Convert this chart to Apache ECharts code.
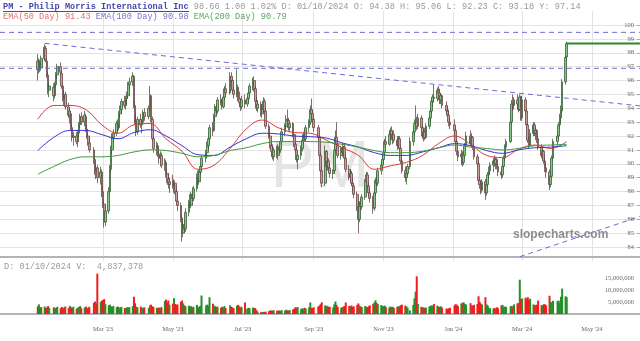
<!DOCTYPE html>
<html>
<head>
<meta charset="utf-8">
<script src="https://cdn.jsdelivr.net/npm/echarts@6/dist/echarts.min.js"></script>
<style>
  html, body { margin: 0; padding: 0; background: #fff; }
  #chart { width: 640px; height: 341px; }
</style>
</head>
<body>
<div id="chart"></div>
<script>
;(function () {
  'use strict';

  // market holidays inside the range (used to build the trading calendar)
  var holidays = ['2023-01-02', '2023-01-16', '2023-02-20', '2023-04-07', '2023-05-29', '2023-06-19',
    '2023-07-04', '2023-09-04', '2023-11-23', '2023-12-25', '2024-01-01', '2024-01-15', '2024-02-19', '2024-03-29'];

  // daily OHLC, one entry per trading day, Jan 3 2023 .. Apr 9 2024
  var opens = [
    97.4,96.8,97.3,96.9,97.6,98.3,97.4,96.4,95.3,95.5,94.9,95.7,96.4,97.0,96.5,95.6,94.7,95.0,94.1,93.5,
    93.6,92.6,91.9,92.0,91.6,92.2,92.8,93.4,93.0,93.4,92.5,92.0,91.5,91.0,90.3,89.5,89.7,89.0,89.4,
    88.0,87.1,85.8,86.6,88.0,89.6,91.0,91.9,92.2,92.9,92.6,93.6,93.9,94.5,94.2,94.7,94.9,95.7,95.9,96.3,94.2,93.0,92.3,
    93.2,92.8,93.0,93.7,93.4,94.0,94.9,93.2,91.8,91.1,91.3,90.7,90.4,90.6,89.9,90.1,89.3,88.9,88.5,
    88.7,88.4,88.6,88.0,87.3,87.0,86.1,85.0,85.6,85.3,86.5,87.2,87.0,87.8,87.5,88.2,89.0,88.7,89.4,89.8,90.4,90.8,
    91.3,91.8,92.6,92.4,93.4,94.1,93.8,94.6,94.4,94.1,94.8,95.4,95.1,96.3,96.0,95.3,95.0,95.5,94.7,94.4,94.1,
    94.6,94.3,94.7,95.1,95.6,96.0,95.4,94.5,94.0,94.3,93.6,93.9,94.5,93.8,92.7,92.0,91.3,90.9,90.5,91.0,
    90.6,91.2,91.0,91.6,92.3,92.7,93.2,93.1,92.6,92.9,92.1,91.4,91.0,90.3,90.6,91.1,91.7,92.1,91.8,92.6,93.0,93.9,93.6,
    93.2,92.6,91.9,90.6,89.5,88.6,90.9,89.8,90.2,89.7,89.3,89.5,91.0,91.9,91.4,90.6,91.1,90.8,91.2,90.4,
    89.6,89.0,89.3,88.6,88.4,87.8,86.9,86.0,87.1,86.9,87.6,88.7,89.2,88.4,87.9,87.5,86.8,87.9,88.8,88.6,89.5,89.9,
    90.3,90.8,91.6,91.4,92.1,92.4,91.9,92.1,91.7,91.3,91.8,91.1,90.2,89.5,89.0,89.3,89.8,91.6,92.3,92.9,93.0,
    92.7,93.3,92.6,92.0,92.3,91.9,92.7,93.3,93.8,94.5,94.8,94.7,95.3,95.1,94.6,94.9,94.2,93.8,93.5,93.0,
    92.8,92.4,91.6,90.9,90.5,90.7,90.1,90.6,91.3,92.0,91.5,91.9,91.2,90.5,90.0,88.8,88.5,88.1,88.7,87.9,88.5,
    89.2,89.5,89.9,90.2,90.0,90.3,89.8,89.4,89.2,89.8,90.4,91.2,91.6,93.0,94.3,94.2,94.6,94.3,93.9,94.8,
    93.3,94.6,93.8,92.8,91.7,91.3,92.2,92.8,92.2,92.4,91.8,91.2,90.6,90.9,90.2,89.7,89.4,88.5,89.1,90.4,
    91.6,92.0,92.8,93.3,93.8,95.9,97.7
  ];
  var highs = [
    97.9,97.6,97.5,97.8,98.6,98.5,97.6,96.6,95.9,95.8,95.9,96.6,97.2,97.3,96.7,95.8,95.3,95.2,94.4,94.0,
    93.8,92.9,92.3,92.3,92.4,93.0,93.6,93.7,93.8,93.6,92.8,92.2,91.9,91.2,90.6,90.0,89.9,89.8,89.6,
    88.4,87.3,87.0,88.3,89.9,91.3,92.2,92.5,93.1,93.2,93.8,94.2,94.7,94.9,94.9,95.2,95.9,96.2,96.6,96.4,94.5,93.6,93.4,
    93.6,93.2,93.9,94.0,94.2,95.6,95.0,93.4,92.0,91.6,91.5,91.0,90.9,90.8,90.4,90.3,89.6,89.3,89.0,
    89.2,88.9,88.8,88.2,87.6,87.2,86.3,85.9,86.0,86.8,87.4,87.8,88.0,88.3,88.4,89.3,89.5,89.6,90.0,90.6,91.0,91.6,
    92.0,92.8,93.0,93.6,94.3,94.4,94.8,95.0,94.7,95.0,95.6,95.8,96.6,96.6,96.1,95.6,96.8,95.7,95.2,94.7,94.9,
    95.0,94.9,95.3,95.8,96.2,96.3,95.6,94.8,94.6,94.5,94.2,94.8,94.7,94.0,92.9,92.2,91.6,91.4,91.2,91.3,
    91.4,91.5,91.9,92.6,92.9,93.5,93.9,93.3,93.1,93.0,92.3,91.6,91.2,90.9,91.3,91.9,92.3,92.5,92.8,93.2,94.2,94.7,93.9,
    93.4,92.8,92.0,90.8,89.8,91.3,91.0,90.5,90.4,90.0,89.6,91.2,92.4,93.0,91.6,91.3,91.5,91.3,91.4,90.7,
    89.9,89.6,89.5,89.0,88.6,88.0,87.3,87.3,87.5,87.8,88.9,89.4,89.4,88.7,88.2,87.7,88.1,89.0,89.3,89.7,90.1,90.5,
    91.0,91.8,92.0,92.3,92.6,92.7,92.3,92.4,92.0,92.0,92.0,91.3,90.4,89.8,89.6,90.0,91.9,92.6,93.2,94.2,93.4,
    93.6,93.5,92.8,92.5,92.6,92.9,93.5,94.0,94.7,95.0,95.7,95.5,95.6,95.4,95.1,95.0,94.5,94.1,93.9,93.3,
    93.2,92.6,91.8,91.2,91.0,90.9,90.9,91.5,92.3,92.4,92.2,92.0,91.4,90.7,90.2,89.1,88.8,88.9,88.9,88.7,89.4,
    89.8,90.1,90.4,90.6,90.5,90.4,90.0,89.7,90.0,90.6,91.4,91.8,93.3,94.6,95.0,94.8,95.0,94.6,95.0,94.9,
    94.9,94.8,94.0,93.0,92.0,92.5,93.0,93.0,92.6,92.5,92.0,91.4,91.1,91.0,90.5,90.0,89.6,89.3,90.6,91.8,
    92.3,93.0,93.6,94.2,96.1,97.8,98.8
  ];
  var lows = [
    96.0,96.5,96.6,96.7,97.4,97.3,96.2,95.0,94.8,94.5,94.7,95.5,96.1,96.3,95.4,94.5,94.2,93.9,93.3,92.9,
    92.4,91.6,91.3,91.4,91.2,91.9,92.6,92.8,92.7,92.3,91.8,91.3,90.8,90.0,89.2,88.9,88.6,88.5,87.6,
    86.8,85.4,85.5,86.4,87.8,89.4,90.7,91.5,92.0,92.3,92.4,93.3,93.6,94.0,93.9,94.3,94.7,95.3,95.6,94.0,92.8,92.0,92.1,
    92.6,92.2,92.9,93.1,93.2,93.8,93.0,91.6,90.8,90.6,90.5,90.0,89.8,89.7,89.5,89.0,88.6,88.2,87.9,
    88.2,87.9,87.8,87.0,86.6,85.8,84.4,84.7,85.0,85.1,86.2,86.8,86.8,87.3,87.3,88.0,88.4,88.5,89.2,89.6,90.1,90.5,
    91.0,91.6,92.0,92.3,93.1,93.5,93.6,94.2,93.9,94.0,94.6,94.9,95.0,95.8,95.1,94.7,94.8,94.5,94.1,93.8,93.9,
    94.0,94.1,94.4,94.9,95.3,95.2,94.3,93.8,93.7,93.4,93.3,93.7,93.6,92.5,91.8,91.1,90.6,90.3,90.2,90.4,
    90.3,90.7,90.8,91.4,92.0,92.5,92.9,92.4,92.3,91.9,91.2,90.8,90.1,89.6,90.3,90.9,91.4,91.6,91.6,92.3,92.8,93.4,92.9,
    92.3,91.7,90.4,89.3,88.3,88.4,89.6,89.5,89.4,89.0,88.9,89.3,90.8,91.2,90.4,90.3,90.5,90.6,90.2,89.4,
    88.8,88.6,88.4,88.0,87.5,86.6,85.0,85.8,86.6,86.7,87.4,88.4,88.2,87.6,87.2,86.4,86.6,87.7,88.3,88.4,89.2,89.6,
    90.0,90.6,91.2,91.3,91.8,91.7,91.4,91.5,91.0,91.1,90.9,90.0,89.3,88.7,88.5,89.1,89.6,91.3,92.0,92.7,92.4,
    92.5,92.4,91.8,91.6,91.7,91.8,92.5,93.0,93.6,94.1,94.4,94.5,94.9,94.3,94.3,94.0,93.5,93.3,92.7,92.5,
    92.1,91.4,90.6,90.2,89.9,89.8,89.9,90.4,91.1,91.3,91.2,91.0,90.3,89.8,88.6,88.2,87.8,87.9,87.4,87.7,88.3,
    88.9,89.2,89.4,89.8,89.6,89.6,89.1,88.9,89.0,89.6,90.2,91.0,91.5,92.8,93.8,93.9,94.0,93.7,93.8,93.1,
    93.1,93.6,92.6,91.5,91.1,91.2,92.0,92.0,91.7,91.5,91.0,90.4,90.3,90.0,89.4,89.0,88.1,88.3,89.0,90.2,
    91.2,91.8,92.5,93.0,93.6,95.7,97.4
  ];
  var closes = [
    96.8,97.3,96.9,97.6,98.4,97.5,96.4,95.3,95.6,94.9,95.7,96.4,97.0,96.6,95.6,94.7,95.0,94.1,93.5,93.8,
    92.6,91.9,92.0,91.6,92.2,92.8,93.4,93.0,93.5,92.5,92.0,91.5,91.0,90.3,89.5,89.7,89.0,89.4,88.0,
    87.1,85.8,86.6,88.0,89.6,91.0,91.9,92.2,92.9,92.6,93.6,93.9,94.5,94.2,94.7,94.9,95.7,95.9,96.3,94.2,93.0,92.3,93.2,
    92.8,93.0,93.7,93.4,94.0,94.9,93.2,91.8,91.1,91.3,90.7,90.4,90.6,89.9,90.1,89.3,88.9,88.5,88.7,
    88.4,88.6,88.0,87.3,87.0,86.1,85.0,85.6,85.3,86.5,87.2,87.0,87.8,87.5,88.2,89.0,88.7,89.4,89.8,90.4,90.8,91.3,
    91.8,92.6,92.4,93.4,94.1,93.8,94.6,94.4,94.1,94.8,95.4,95.1,96.3,96.0,95.3,95.0,95.5,94.7,94.4,94.1,94.6,
    94.3,94.7,95.1,95.6,96.0,95.4,94.5,94.0,94.3,93.6,93.9,94.5,93.8,92.7,92.0,91.3,90.9,90.5,91.0,90.6,
    91.2,91.0,91.6,92.3,92.7,93.2,93.1,92.6,92.9,92.1,91.4,91.0,90.3,90.6,91.1,91.7,92.1,91.8,92.6,93.0,93.9,93.6,93.2,
    92.6,91.9,90.6,89.5,88.6,90.9,89.8,90.2,89.7,89.3,89.5,91.0,91.9,91.4,90.6,91.1,90.8,91.2,90.4,89.6,
    89.0,89.3,88.6,88.4,87.8,86.9,86.0,87.1,86.9,87.6,88.7,89.2,88.4,87.9,87.5,86.8,87.9,88.8,88.6,89.5,89.9,90.3,
    90.8,91.6,91.4,92.1,92.4,91.9,92.1,91.7,91.3,91.8,91.1,90.2,89.5,89.0,89.3,89.8,91.6,92.3,92.9,93.0,92.7,
    93.3,92.6,92.0,92.3,91.9,92.7,93.3,93.8,94.5,94.8,94.7,95.3,95.1,94.6,94.9,94.2,93.8,93.5,93.0,92.8,
    92.4,91.6,90.9,90.5,90.7,90.1,90.6,91.3,92.0,91.5,91.9,91.2,90.5,90.0,88.8,88.5,88.1,88.7,87.9,88.5,89.2,
    89.5,89.9,90.2,90.0,90.3,89.8,89.4,89.2,89.8,90.4,91.2,91.6,93.0,94.3,94.2,94.6,94.3,93.9,94.8,93.3,
    94.6,93.8,92.8,91.7,91.3,92.2,92.8,92.2,92.4,91.8,91.2,90.6,90.9,90.2,89.7,89.4,88.5,89.1,90.4,91.6,
    92.0,92.8,93.3,93.8,95.9,97.66,98.66
  ];
  // daily volume, millions of shares
  var volumes = [
    3.2,4.0,2.6,2.9,3.1,2.4,2.7,3.3,2.5,2.8,2.2,2.6,3.0,2.4,2.9,2.3,2.7,3.1,2.5,3.4,
    2.8,2.5,3.0,2.2,2.6,2.9,3.3,2.4,2.7,3.1,2.3,2.6,3.0,4.6,5.2,4.4,16.8,5.0,5.6,
    5.8,6.2,4.1,3.6,3.9,3.2,2.8,3.4,2.9,3.1,2.6,2.7,3.0,2.5,2.4,2.8,2.6,2.9,3.3,7.2,4.5,3.0,2.8,
    3.1,2.6,2.4,2.8,2.5,3.6,3.9,3.2,2.9,2.6,2.4,2.7,2.3,2.9,5.4,6.0,4.8,5.6,3.9,
    4.3,6.6,4.2,3.8,4.0,5.1,5.6,4.4,3.6,3.2,3.5,2.9,3.3,2.7,3.0,3.8,2.6,3.1,3.4,7.7,3.6,3.9,
    3.4,7.0,4.3,3.5,3.2,2.8,3.1,2.6,3.0,2.7,3.3,2.5,3.6,3.0,2.7,2.4,3.5,3.8,3.2,2.6,3.0,
    4.8,2.2,2.6,2.4,2.7,2.3,2.5,1.6,1.0,0.8,0.7,0.9,0.8,1.0,1.2,1.4,1.5,1.3,1.6,1.4,
    1.3,1.5,1.2,1.6,1.4,1.8,1.5,1.3,1.7,1.9,2.2,2.8,2.6,2.9,2.1,2.4,1.9,2.6,2.3,2.8,4.8,2.6,2.5,
    2.8,3.1,3.5,4.1,4.9,3.6,3.2,3.4,2.9,3.0,2.7,4.0,5.2,3.8,2.9,2.6,2.8,3.1,3.3,4.8,
    3.4,3.0,3.6,2.9,3.2,3.8,4.4,3.5,3.1,2.9,3.3,3.0,2.8,3.2,3.6,4.2,4.8,5.7,4.6,4.1,3.7,3.4,
    3.2,3.5,2.9,2.7,3.1,2.8,3.0,2.6,2.9,3.3,3.0,3.7,3.9,3.5,3.2,2.6,1.5,3.8,6.5,9.3,15.7,
    4.2,3.0,2.6,2.8,2.4,2.7,3.1,3.4,3.6,3.3,4.2,3.5,3.0,2.9,3.2,2.7,2.3,2.1,2.4,2.6,
    3.6,4.1,3.8,3.3,4.4,4.7,4.84,4.2,3.9,4.5,3.6,3.4,3.8,4.2,7.4,5.1,4.3,3.9,7.0,4.0,3.6,
    2.6,2.4,2.3,2.5,2.2,2.8,2.4,3.6,3.8,2.9,3.1,3.0,3.2,3.4,2.8,4.0,4.4,4.6,14.3,6.2,
    6.5,6.8,6.2,7.0,5.8,6.4,4.0,3.8,3.6,3.9,5.6,3.7,3.5,4.1,4.0,3.6,7.6,5.0,4.8,5.5,
    5.4,5.6,4.6,7.2,10.6,7.4,7.0
  ];

  // moving averages read every two weeks
  var emaDates = ['2023-01-03','2023-01-17','2023-01-31','2023-02-14','2023-02-28','2023-03-14','2023-03-28',
    '2023-04-11','2023-04-25','2023-05-09','2023-05-23','2023-06-06','2023-06-20','2023-07-04','2023-07-18',
    '2023-08-01','2023-08-15','2023-08-29','2023-09-12','2023-09-26','2023-10-10','2023-10-24','2023-11-07',
    '2023-11-21','2023-12-05','2023-12-19','2024-01-02','2024-01-16','2024-01-30','2024-02-13','2024-02-27',
    '2024-03-12','2024-03-26','2024-04-09'];
  var ema50 = [93.2,94.2,94.2,93.9,92.8,92.2,92.8,92.9,91.8,90.9,89.6,89.9,91.1,92.5,93.15,92.6,92.25,92.2,
    91.7,91.15,90.6,89.6,89.85,90.1,90.6,91.45,92.0,91.4,90.6,90.45,91.05,91.35,91.1,91.6];
  var ema100 = [90.95,91.9,92.4,92.4,92.1,91.8,92.25,92.45,92.0,91.3,90.65,90.6,91.2,91.8,92.2,92.15,92.0,
    91.95,91.85,91.5,91.2,90.8,90.6,90.6,90.85,91.15,91.45,91.3,90.95,90.75,91.0,91.15,91.2,91.3];
  var ema200 = [89.25,89.8,90.3,90.5,90.5,90.6,90.85,91.0,90.95,90.75,90.5,90.6,90.95,91.15,91.45,91.6,91.6,
    91.6,91.55,91.4,91.2,90.95,90.8,90.8,90.9,91.15,91.35,91.2,91.1,91.0,91.1,91.3,91.35,91.4];

  // drawn levels and trendlines
  var levels = [99.47, 96.88];
  var downTrendDates = ['2023-01-09', '2024-06-12'];
  var downTrendValues = [98.68, 94.17];
  var upTrendDates = ['2024-02-28', '2024-06-12'];
  var upTrendValues = [83.3, 86.2];

  var monthNames = ['Jan','Feb','Mar','Apr','May','Jun','Jul','Aug','Sep','Oct','Nov','Dec'];
  var firstMark = '2023-03-01';

  function fmt(d) { return d.toISOString().slice(0, 10); }

  // calendar axis: every day from Dec 1 2022 to Jun 12 2024
  var days = [];
  for (var d = new Date(Date.UTC(2022, 11, 1)); d.getTime() <= Date.UTC(2024, 5, 12); d.setUTCDate(d.getUTCDate() + 1)) {
    days.push(fmt(d));
  }
  var tradingDates = [];
  for (var t = new Date(Date.UTC(2023, 0, 2)); t.getTime() <= Date.UTC(2024, 3, 9); t.setUTCDate(t.getUTCDate() + 1)) {
    var wd = t.getUTCDay();
    var s = fmt(t);
    if (wd > 0 && wd < 6 && holidays.indexOf(s) < 0) tradingDates.push(s);
  }

  function isMarkDay(v) {
    var m = +v.slice(5, 7);
    return v >= firstMark && v.slice(8) === '01' && m % 2 === 1;
  }
  function monthLabel(v) {
    return monthNames[+v.slice(5, 7) - 1] + " '" + v.slice(2, 4);
  }

  var candleData = [];
  var volumeData = [];
  tradingDates.forEach(function (date, i) {
    candleData.push([date, opens[i], closes[i], lows[i], highs[i]]);
    volumeData.push({
      value: [date, volumes[i]],
      itemStyle: { color: closes[i] >= opens[i] ? '#25902a' : '#f01e1e' }
    });
  });

  function pairs(dates, values) {
    return dates.map(function (dt, i) { return [dt, values[i]]; });
  }

  var lastIdx = tradingDates.length - 1;
  var lastDay = days[days.length - 1];

  var dashed = { color: '#6b6bd2', width: 1, type: [5, 4] };
  function lineSeries(data, style, extra) {
    var o = {
      type: 'line', xAxisIndex: 0, yAxisIndex: 0, data: data, symbol: 'none',
      lineStyle: style, silent: true, z: 4
    };
    for (var k in extra) o[k] = extra[k];
    return o;
  }

  var mono = 'Liberation Mono';
  var serif = 'Liberation Serif';
  var axisFont = { fontSize: 6.5, fontFamily: serif, color: '#666' };

  var chart = echarts.init(document.getElementById('chart'));
  chart.setOption({
    animation: false,
    backgroundColor: '#fff',
    grid: [
      { left: 0, right: 0, top: 11.125, bottom: 80.125 },
      { left: 0, right: 0, top: 266, bottom: 27 }
    ],
    xAxis: [
      {
        type: 'category', gridIndex: 0, data: days, boundaryGap: false,
        offset: -4,
        axisLine: { show: true, lineStyle: { color: '#b4b4b4', width: 2 } },
        axisTick: { show: false },
        axisLabel: { show: false },
        splitLine: { show: true, interval: function (i, v) { return isMarkDay(v); }, lineStyle: { color: '#e3e3e3' } }
      },
      {
        type: 'category', gridIndex: 1, data: days, boundaryGap: false,
        offset: 4,
        axisLine: { show: true, lineStyle: { color: '#b4b4b4', width: 2 } },
        axisTick: { show: false },
        axisLabel: Object.assign({
          interval: function (i, v) { return isMarkDay(v); },
          formatter: monthLabel, margin: 8
        }, axisFont),
        splitLine: { show: false }
      }
    ],
    yAxis: [
      {
        type: 'value', gridIndex: 0, position: 'right', min: 83, max: 101, interval: 1,
        axisLine: { show: false },
        axisTick: { show: true, inside: true, length: 3, lineStyle: { color: '#aaa' } },
        axisLabel: Object.assign({ inside: true, margin: 6, showMinLabel: false, showMaxLabel: false }, axisFont),
        splitLine: { show: true, showMinLine: false, showMaxLine: false, lineStyle: { color: '#e3e3e3' } }
      },
      {
        type: 'value', gridIndex: 1, position: 'right', min: 0, max: 20, interval: 5,
        axisLine: { show: false },
        axisTick: { show: false },
        axisLabel: Object.assign({
          inside: true, margin: 6, padding: [6, 0, 0, 0],
          formatter: function (v) { return v === 0 || v === 20 ? '' : (v * 1e6).toLocaleString('en-US'); }
        }, axisFont),
        splitLine: { show: false }
      }
    ],
    graphic: [
      {
        type: 'text', left: 'center', top: 136, z: 0, silent: true,
        style: { text: 'PM', fontSize: 66, fontFamily: 'Liberation Sans', fill: '#e4e4e4' }
      },
      {
        type: 'text', left: 513, top: 229, z: 100, silent: true,
        style: { text: 'slopecharts.com', fontSize: 12, fontWeight: 'bold', fontFamily: 'Liberation Sans', fill: '#8c8c8c' }
      },
      {
        type: 'text', left: 3, top: 2.5, z: 100, silent: true,
        style: {
          text: '{t|PM - Philip Morris International Inc} {g|98.66 1.00 1.02% D: 01/10/2024 O: 94.38 H: 95.06 L: 92.23 C: 93.18 Y: 97.14}',
          rich: {
            t: { fontFamily: mono, fontSize: 8.6, fontWeight: 'bold', fill: '#4646b0' },
            g: { fontFamily: mono, fontSize: 8.6, fill: '#9a9a9a' }
          },
          fontFamily: mono, fontSize: 8.6
        }
      },
      {
        type: 'line', z: 100, silent: true,
        shape: { x1: 3, y1: 11.5, x2: 189, y2: 11.5 },
        style: { stroke: '#4646b0', lineWidth: 1 }
      },
      {
        type: 'text', left: 3, top: 12.5, z: 100, silent: true,
        style: {
          text: '{r|EMA(50 Day) 91.43} {b|EMA(100 Day) 90.98} {gr|EMA(200 Day) 90.79}',
          rich: {
            r: { fontFamily: mono, fontSize: 8.6, fill: '#e27070' },
            b: { fontFamily: mono, fontSize: 8.6, fill: '#7474cc' },
            gr: { fontFamily: mono, fontSize: 8.6, fill: '#5ea65e' }
          },
          fontFamily: mono, fontSize: 8.6
        }
      },
      {
        type: 'text', left: 4, top: 262.5, z: 100, silent: true,
        style: { text: 'D: 01/10/2024 V:  4,837,378', fontFamily: mono, fontSize: 8.6, fill: '#9a9a9a' }
      }
    ],
    series: [
      {
        type: 'candlestick', xAxisIndex: 0, yAxisIndex: 0, data: candleData,
        encode: { x: 0, y: [1, 2, 3, 4] },
        barWidth: 2.2, z: 3,
        itemStyle: {
          color: '#84c884', color0: '#c99f9f',
          borderColor: '#3a5f3a', borderColor0: '#6a4646', borderWidth: 0.8
        }
      },
      lineSeries(pairs(emaDates, ema50), { color: '#e03838', width: 1 }, { smooth: 0.4, z: 5 }),
      lineSeries(pairs(emaDates, ema100), { color: '#3434d0', width: 1 }, { smooth: 0.4, z: 5 }),
      lineSeries(pairs(emaDates, ema200), { color: '#3f9a3f', width: 1 }, { smooth: 0.4, z: 5 }),
      lineSeries([[days[0], levels[0]], [lastDay, levels[0]]], dashed),
      lineSeries([[days[0], levels[1]], [lastDay, levels[1]]], dashed),
      lineSeries(pairs(downTrendDates, downTrendValues), dashed),
      lineSeries(pairs(upTrendDates, upTrendValues), dashed),
      lineSeries([[tradingDates[lastIdx], closes[lastIdx]], [lastDay, closes[lastIdx]]],
        { color: '#2a8a2a', width: 2 }, { z: 6 }),
      {
        type: 'bar', xAxisIndex: 1, yAxisIndex: 1, data: volumeData,
        barWidth: 2, barGap: '-100%'
      }
    ]
  });
})();
</script>
</body>
</html>
